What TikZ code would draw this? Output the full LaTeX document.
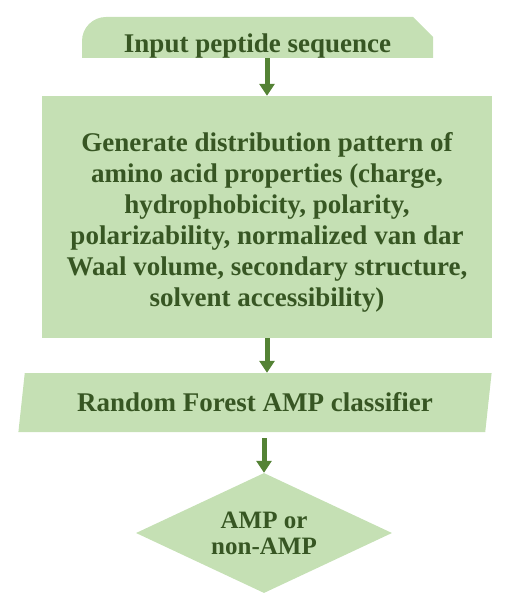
\documentclass[tikz,border=0pt]{standalone}
\usepackage{fontspec}
\setmainfont{Liberation Serif}
\usetikzlibrary{shapes.geometric,arrows.meta}
\definecolor{boxgreen}{HTML}{C5E0B4}
\definecolor{textgreen}{HTML}{375623}
\definecolor{arrowgreen}{HTML}{548235}
\begin{document}
\begin{tikzpicture}[x=1pt,y=-1pt,
    txt/.style={text=textgreen,font=\fontsize{27}{31}\selectfont\bfseries,align=center,inner sep=0pt},
    box/.style={txt,fill=boxgreen},
    arr/.style={draw=arrowgreen,line width=5pt,-{Triangle[width=15pt,length=12pt]}}]
    \useasboundingbox (0,0) rectangle (511,609);

    % input: round corner top left, cut corner top right
    \fill [boxgreen] (82,58) -- (82,41) arc[start angle=180,end angle=90,radius=24pt] -- (413,17) -- (433,37) -- (433,58) -- cycle;
    \node [minimum width=351,minimum height=41,inner sep=0pt,
        label={[txt,yshift=-8.5pt]center:Input peptide sequence}] (input) at (257.5,37.5) {};

    \node [minimum width=450,minimum height=242,fill=boxgreen,
        label={[txt,yshift=-5pt]center:{Generate distribution pattern of\\amino acid properties (charge,\\hydrophobicity, polarity,\\polarizability, normalized van dar\\Waal volume, secondary structure,\\solvent accessibility)}}] (features) at (267,217) {};

    \node [box,trapezium,trapezium left angle=75.7,trapezium right angle=104.3,trapezium stretches=true,
        minimum width=474,minimum height=59] (rf) at (255,402.5) {Random Forest AMP classifier};

    \node [box,diamond,aspect=2.13,minimum width=256,minimum height=120,
        font=\fontsize{25}{26}\selectfont\bfseries] (out) at (264,533) {AMP or\\non-AMP};

    \draw [arr] (input.south -| features.north) -- (features.north);
    \draw [arr] (features.south) -- (features.south |- rf.north);
    \draw [arr] ([yshift=-6pt]rf.south -| out.north) -- (out.north);
\end{tikzpicture}
\end{document}
